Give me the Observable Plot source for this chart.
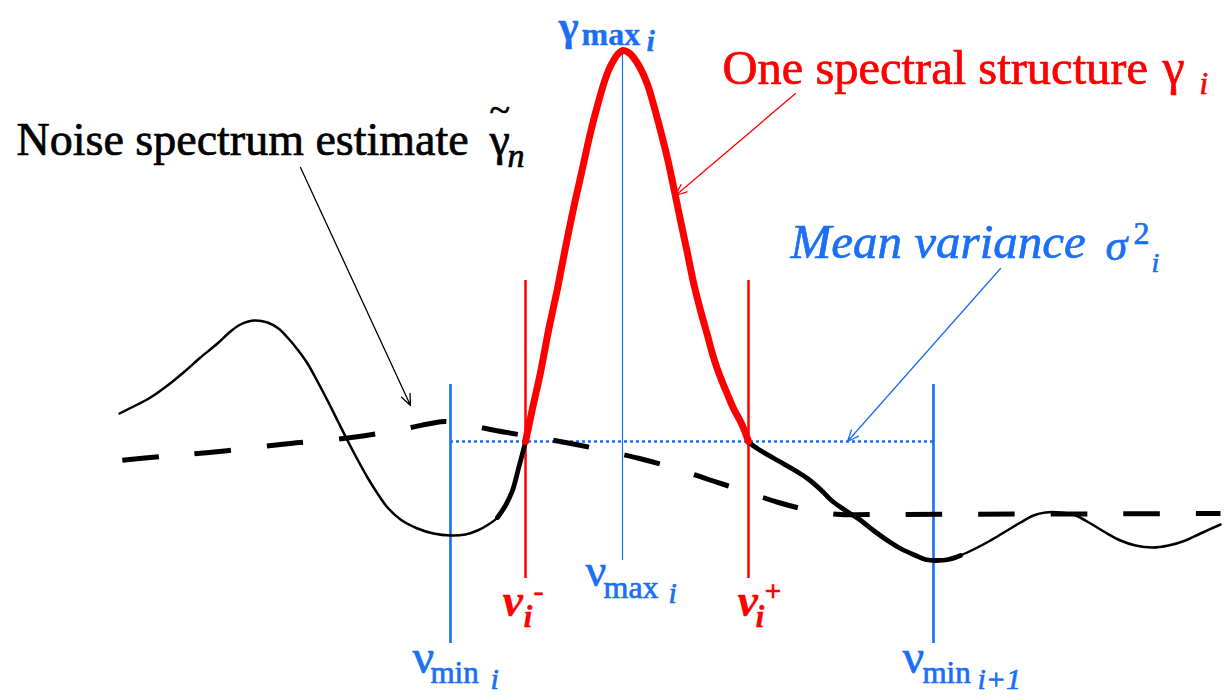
<!DOCTYPE html>
<html><head><meta charset="utf-8">
<script src="https://cdn.jsdelivr.net/npm/d3@7"></script>
<script src="https://cdn.jsdelivr.net/npm/@observablehq/plot@0.6"></script>
<style>html,body{margin:0;padding:0;background:#fff;overflow:hidden}
svg text{font-family:"Liberation Serif","Times New Roman",Tinos,serif !important}</style>
</head><body><div id="chart"></div>
<script>
// Spectrum (frequency, level; level axis points downward)
const spectrumX = [119,135,150,167,183,200,217,230,240,253,267,278,287,297,307,317,327,337,347,357,367,377,387,400,417,433,450,465,477,488,497,505,512,518,525,532,540,548,557,565,573,582,590,597,603,608,613,618,623,628,633,640,647,653,660,667,673,680,687,693,700,707,713,720,727,733,740,744,748,760,779,793,807,820,831,845,859,873,887,900,915,925,935,948,960,975,990,1005,1020,1033,1045,1060,1075,1090,1105,1120,1135,1152,1168,1185,1200,1220];
const spectrumY = [413,405,397,385,372,357,343,331,324,320,322,328,337,349,363,381,400,420,440,459,477,493,507,519,528,533,535,534,530,524,517,505,490,468,441,408,372,330,288,247,208,168,132,105,84,70,60,53,50,52,57,68,84,104,130,158,186,220,253,282,310,335,357,377,394,408,421,430,441,450,461,469,478,489,500,510,519,530,540,548,555,559,560,559,555,548,540,531,522,515,512,512,515,523,532,540,545,547,545,540,533,524];
// Noise spectrum estimate
const noiseX = [120,160,209,280,351,400,430,445,470,495,530,565,600,639,675,708,745,778,810,840,870,1220];
const noiseY = [460,456,452,444,437,429,423,421,425,430,436,442,449,458,468,479,491,502,510,514,514,513];
// Key frequencies and levels
const nuMin = [450, 933];
const nuBounds = [525, 748];
const nuMax = 622;
const gammaMax = 50;
const meanVariance = 441;

const blue = "#1a6ff5", red = "#ff0000", black = "#000";

const spectrum = spectrumX.map((x, i) => ({x, y: spectrumY[i]}));
const noise = noiseX.map((x, i) => ({x, y: noiseY[i]}));

// annotation pieces: [text, x, baseline, size, color]
const regular = [
  ["Noise spectrum estimate", 16, 154, 46, black],
  ["~", 489, 121, 38, black],
  ["γ", 489, 154, 46, black],
  ["One spectral structure", 722, 83, 48.5, red],
  ["γ", 1162, 83, 50, red],
  ["2", 1133, 243, 32, blue],
  ["ν", 412, 672, 48, blue],
  ["min", 430, 682, 31, blue],
  ["ν", 902, 672, 48, blue],
  ["min", 922, 682, 31, blue],
  ["ν", 585, 585, 46, blue],
  ["max", 603, 597, 32, blue],
  ["-", 533, 600, 30, red]
];
const italic = [
  ["n", 507, 166, 34, black],
  ["i", 1199, 93, 31, red],
  ["Mean variance", 790, 257, 49, blue],
  ["σ", 1105, 259, 44, blue],
  ["i", 1151, 271, 28, blue],
  ["i", 490, 688, 30, blue],
  ["i+1", 977, 688, 30, blue],
  ["i", 668, 602, 30, blue]
];
const bold = [
  ["γ", 558, 39, 43, blue],
  ["max", 581, 44, 32, blue],
  ["+", 764, 600, 30, red]
];
const boldItalic = [
  ["i", 646, 50, 30, blue],
  ["ν", 502, 615, 46, red],
  ["i", 523, 626, 32, red],
  ["ν", 737, 615, 46, red],
  ["i", 755, 626, 32, red]
];
const arrows = [
  {x1: 300, y1: 167, x2: 410, y2: 405, c: black},
  {x1: 795, y1: 93, x2: 675, y2: 195, c: red},
  {x1: 1000, y1: 268, x2: 847, y2: 441, c: blue}
];

const font = "Liberation Serif";
const textMark = (rows, weight, style, sw) => Plot.text(rows, {
  x: d => d[1], y: d => d[2], text: d => d[0], fontSize: d => d[3], fill: d => d[4],
  stroke: d => d[4], strokeWidth: sw,
  textAnchor: "start", lineAnchor: "bottom", fontFamily: font,
  fontWeight: weight, fontStyle: style
});

const chart = Plot.plot({
  width: 1225, height: 696, margin: 0,
  x: {domain: [0, 1225], axis: null},
  y: {domain: [0, 696], reverse: true, axis: null},
  color: {type: "identity"},
  style: {background: "white"},
  marks: [
    Plot.ruleY([meanVariance], {x1: nuMin[0], x2: nuMin[1], stroke: blue, strokeWidth: 2.5, strokeDasharray: "3,3"}),
    Plot.ruleX(nuMin, {y1: 384, y2: 643, stroke: blue, strokeWidth: 2.6}),
    Plot.ruleX(nuBounds, {y1: 280, y2: 578, stroke: red, strokeWidth: 2.5}),
    Plot.ruleX([nuMax], {y1: gammaMax, y2: 560, stroke: blue, strokeWidth: 1.2}),
    Plot.line(noise, {x: "x", y: "y", stroke: black, strokeWidth: 5, strokeDasharray: "36.5,36", strokeDashoffset: -2, strokeLinecap: "butt", curve: "catmull-rom"}),
    Plot.line(spectrum, {x: "x", y: "y", stroke: black, strokeWidth: 2.5, curve: "catmull-rom"}),
    Plot.line(spectrum.filter(d => d.x >= 490 && d.x <= 965), {x: "x", y: "y", stroke: black, strokeWidth: 4.8, curve: "catmull-rom"}),
    Plot.line(spectrum.filter(d => d.x >= nuBounds[0] && d.x <= nuBounds[1]), {x: "x", y: "y", stroke: red, strokeWidth: 7, curve: "catmull-rom"}),
    Plot.arrow(arrows, {x1: "x1", y1: "y1", x2: "x2", y2: "y2", stroke: "c", strokeWidth: 1.3, headLength: 14, headAngle: 45}),
    textMark(regular, "normal", "normal", 0.7),
    textMark(italic, "normal", "italic", 0.7),
    textMark(bold, "bold", "normal", 0.3),
    textMark(boldItalic, "bold", "italic", 0.3)
  ]
});
d3.select(chart).selectAll("g[aria-label=text]").attr("font-family", font);
document.getElementById("chart").appendChild(chart);
</script></body></html>
